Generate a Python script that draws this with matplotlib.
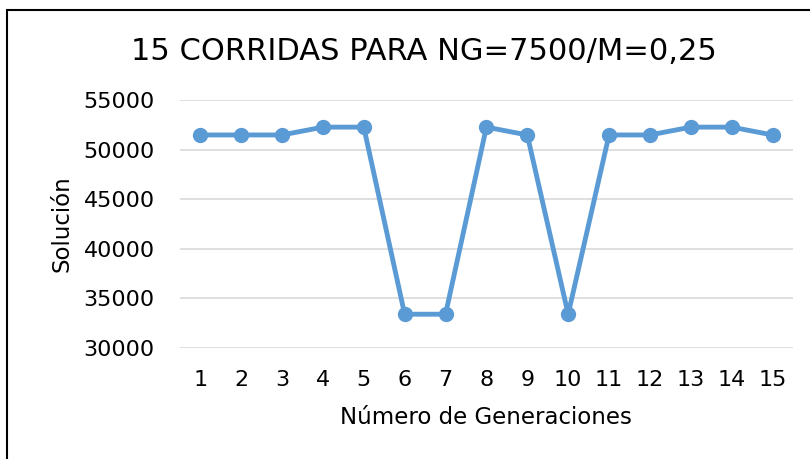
import matplotlib.pyplot as plt
from matplotlib.patches import Rectangle

plt.rcParams['font.family'] = ['DejaVu Sans']

corridas = list(range(1, 16))
solucion = [51480, 51480, 51480, 52270, 52270, 33400, 33400, 52270,
            51480, 33400, 51480, 51480, 52270, 52270, 51480]
y_ticks = [30000, 35000, 40000, 45000, 50000, 55000]

fig = plt.figure(figsize=(8.1, 4.59), dpi=100)
ax = fig.add_axes([0.222, 0.242, 0.757, 0.540])

ax.plot(corridas, solucion, color='#5B9BD5', linewidth=3.5,
        marker='o', markersize=10, zorder=3)

ax.set_xlim(0.5, 15.5)
ax.set_ylim(30000, 55000)
ax.set_xticks(corridas)
ax.set_yticks(y_ticks)
ax.grid(axis='y', color='#D9D9D9', linewidth=1.2)
ax.set_axisbelow(True)
for s in ax.spines.values():
    s.set_visible(False)
ax.tick_params(length=0, labelsize=16, colors='black')
ax.tick_params(axis='x', pad=16)
ax.tick_params(axis='y', pad=18)

# title centered over the whole chart area
fig.text(424 / 810, 1 - 51 / 459, '15 CORRIDAS PARA NG=7500/M=0,25',
         fontsize=22, ha='center', va='center')

ax.set_xlabel('Número de Generaciones', fontsize=16.5, va='center')
ax.xaxis.set_label_coords(0.5, -0.282)
ax.set_ylabel('Solución', fontsize=16.5, va='center')
ax.yaxis.set_label_coords(-0.1925, 0.5)

# black frame around the chart
fig.patches.append(Rectangle((7 / 810, -0.1), 1.0, 1.1 - 10 / 459,
                             transform=fig.transFigure, fill=False,
                             edgecolor='black', linewidth=1.5))

fig.savefig('out.png', dpi=100)
